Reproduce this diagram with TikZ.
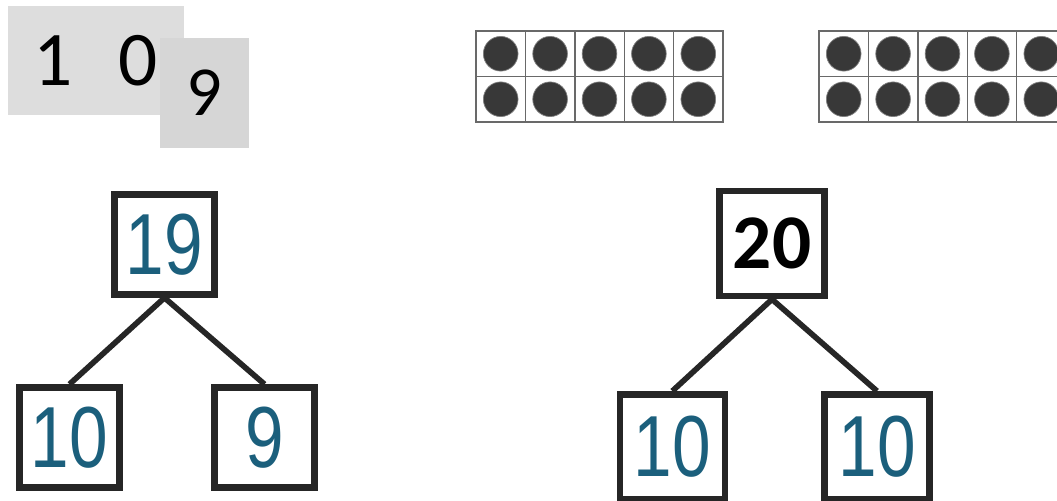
\documentclass[tikz,border=0pt]{standalone}
\usepackage{fontspec}
\setmainfont{Carlito}
\newfontfamily\handfont{Liberation Sans}
\usetikzlibrary{positioning}
\definecolor{cardgray}{RGB}{221,221,221}
\definecolor{cardgraytwo}{RGB}{214,214,214}
\definecolor{inkteal}{RGB}{27,95,124}
\definecolor{dotgray}{RGB}{56,56,56}
\definecolor{framegray}{RGB}{105,105,105}

\begin{document}
\begin{tikzpicture}[
    x=0.03cm, y=-0.03cm,
    on grid,
    bondbox/.style={draw=black!85, line width=5.6pt, minimum size=3cm, inner sep=0pt},
    bigbox/.style={bondbox, minimum size=3.15cm},
    bondline/.style={draw=black!85, line width=4.8pt},
    hand/.style={text=inkteal, font=\handfont\fontsize{74}{74}\selectfont},
    card/.style={inner sep=0pt, font=\fontsize{66}{66}\selectfont},
    tenframe/.style={draw=framegray, line width=1.2pt},
    counter/.style={fill=dotgray, draw=gray, line width=0.6pt}
]
   \clip (0,0) rectangle (1057,501);
   \fill[white] (0,0) rectangle (1057,501);

   % number cards
   \node[card, fill=cardgray, minimum width=5.28cm, minimum height=3.27cm] (cardten) at (96,60.5) {1\hspace{39pt}0};
   \node[card, fill=cardgraytwo, minimum width=2.67cm, minimum height=3.3cm, font=\fontsize{60}{60}\selectfont] (cardnine) at (204.5,93) {9};

   % ten frames
   \foreach \fx in {476, 819} {
      \draw[tenframe] (\fx,31) rectangle ++(247,91);
      \draw[tenframe] (\fx,76.5) -- ++(247,0);
      \foreach \c in {1,...,4}
         \draw[tenframe] (\fx+\c*49.4,31) -- ++(0,91);
      \foreach \c in {0,...,4}
         \foreach \r in {0,1}
            \draw[counter] (\fx+24.7+\c*49.4, 53.75+\r*45.5) circle[radius=0.52cm];
   }

   % left number bond
   \node[bondbox, hand] (nineteen) at (164.5,244.5) {\scalebox{0.8}[1]{19}};
   \node[bondbox, hand] (tenleft) [below left=5.79cm and 2.85cm of nineteen] {\scalebox{0.8}[1]{10}};
   \node[bondbox, hand] (nine) [below right=5.79cm and 3cm of nineteen] {\scalebox{0.8}[1]{9}};

   \draw[bondline] (nineteen.south) -- (tenleft.north);
   \draw[bondline] (nineteen.south) -- (nine.north);

   % right number bond
   \node[bigbox, font=\bfseries\fontsize{66}{66}\selectfont] (twenty) at (772,243.5) {20};
   \node[bigbox, hand] (tena) [below left=6.1cm and 2.99cm of twenty] {\scalebox{0.8}[1]{10}};
   \node[bigbox, hand] (tenb) [below right=6.1cm and 3.15cm of twenty] {\scalebox{0.8}[1]{10}};

   \draw[bondline] (twenty.south) -- (tena.north);
   \draw[bondline] (twenty.south) -- (tenb.north);
\end{tikzpicture}
\end{document}
